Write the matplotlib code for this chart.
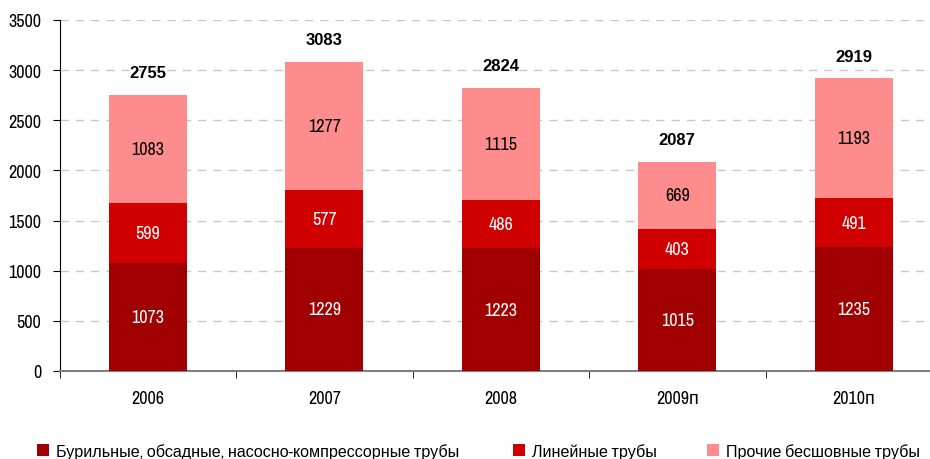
import matplotlib
matplotlib.use("Agg")
import matplotlib.pyplot as plt
import numpy as np
from matplotlib import font_manager
from matplotlib.font_manager import FontProperties
from matplotlib.patches import Patch

years = ["2006", "2007", "2008", "2009п", "2010п"]
drill = [1073, 1229, 1223, 1015, 1235]
line = [599, 577, 486, 403, 491]
other = [1083, 1277, 1115, 669, 1193]
totals = [2755, 3083, 2824, 2087, 2919]
series_names = ["Бурильные, обсадные, насосно-компрессорные трубы",
                "Линейные трубы", "Прочие бесшовные трубы"]
colors = ["#A00000", "#D00000", "#FF8C8C"]

def wnum(w):
    if isinstance(w, int):
        return w
    return {"normal": 400, "regular": 400, "bold": 700, "book": 400}.get(str(w), 400)

narrow = None
for f in font_manager.fontManager.ttflist:
    if ("Narrow" in f.name or "Condensed" in f.name) and wnum(f.weight) == 400 and f.style == "normal":
        narrow = f.name
        break
bold_file = None
if narrow:
    for f in font_manager.fontManager.ttflist:
        if f.name == narrow and wnum(f.weight) >= 600 and f.style == "normal":
            bold_file = f.fname
            break
fam = ([narrow] if narrow else []) + ["Liberation Sans", "DejaVu Sans"]
plt.rcParams['font.family'] = fam
if bold_file:
    bold_fp = FontProperties(fname=bold_file, size=13)
else:
    bold_fp = FontProperties(family=["Liberation Sans"], weight="bold", size=12)

fig = plt.figure(figsize=(9.3, 4.6), dpi=100)
ax = fig.add_axes([59.5/930, 1-372/460, 1-59.5/930, (372-21)/460])

x = np.arange(len(years))
w = 0.44
bottoms = np.zeros(len(years))
text_colors = ["white", "white", "black"]
for vals, c, name, tc in zip([drill, line, other], colors, series_names, text_colors):
    vals = np.array(vals)
    ax.bar(x, vals, w, bottom=bottoms, color=c, label=name, zorder=3)
    for xi, b, v in zip(x, bottoms, vals):
        ax.text(xi, b + v/2, str(v), ha="center", va="center", color=tc, fontsize=13, zorder=4)
    bottoms = bottoms + vals

for xi, t in zip(x, totals):
    ax.text(xi, t + 220, str(t), ha="center", va="center", fontproperties=bold_fp, zorder=4)

ax.set_yticks(np.arange(0, 3501, 500))
ax.set_xticks(x)
ax.set_xticklabels(years)
ax.set_xticks(np.arange(-0.5, 4.0, 1), minor=True)
ax.set_ylim(0, 3500)
ax.set_xlim(-0.5, -0.5 + (930-59.5)/176.5)
ax.tick_params(axis="x", which="major", length=0, labelsize=13, pad=14)
ax.tick_params(axis="x", which="minor", length=5, direction="out", color="black")
ax.tick_params(axis="y", length=5, direction="out", labelsize=13, pad=8)

for yv in np.arange(500, 3501, 500):
    ax.axhline(yv, color="#C8C8C8", linestyle=(0, (6, 5)), linewidth=1, zorder=1)

for s in ["top", "right"]:
    ax.spines[s].set_visible(False)
ax.spines["left"].set_color("black")
ax.spines["bottom"].set_color("#808080")
ax.spines["bottom"].set_linewidth(1.5)

leg_x = [37, 513, 707]
for name, c, lx in zip(series_names, colors, leg_x):
    fig.legend(handles=[Patch(facecolor=c, label=name)], loc="center left",
               bbox_to_anchor=(lx/930, 1-452/460), frameon=False, fontsize=11.6,
               handlelength=0.75, handleheight=0.75, handletextpad=0.4,
               borderpad=0, borderaxespad=0)

fig.savefig("out.png", dpi=100)
